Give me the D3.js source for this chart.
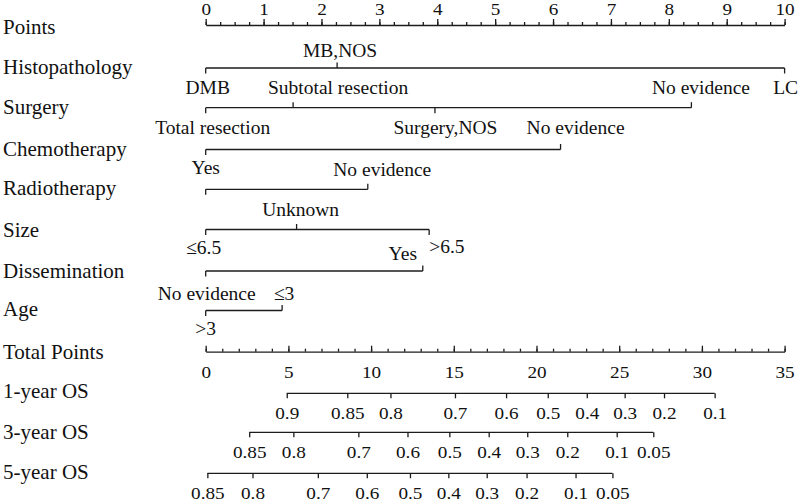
<!DOCTYPE html>
<html><head><meta charset="utf-8">
<script src="https://cdn.jsdelivr.net/npm/d3@7"></script>
<style>
html,body{margin:0;padding:0;background:#fff;}
svg{display:block;}
</style></head><body>
<svg id="chart" width="799" height="502"></svg>
<script>
// ---------------- data ----------------
const rowNames = ["Points","Histopathology","Surgery","Chemotherapy","Radiotherapy","Size","Dissemination","Age","Total Points","1-year OS","3-year OS","5-year OS"];
const pointsTicks = [0,1,2,3,4,5,6,7,8,9,10];
const totalPointsTicks = [0,5,10,15,20,25,30,35];

const histopathologyLevels = ["DMB","MB,NOS","LC"];
const histopathologyPoints = [0, 2.27, 10];
const surgeryLevels = ["Total resection","Subtotal resection","Surgery,NOS","No evidence"];
const surgeryPoints = [0, 1.51, 3.96, 8.39];
const chemotherapyLevels = ["Yes","No evidence"];
const chemotherapyPoints = [0, 6.13];
const radiotherapyLevels = ["Yes","No evidence"];
const radiotherapyPoints = [0, 2.80];
const sizeLevels = ["\u22646.5","Unknown",">6.5"];
const sizePoints = [0, 1.57, 3.86];
const disseminationLevels = ["No evidence","Yes"];
const disseminationPoints = [0, 3.75];
const ageLevels = [">3","\u22643"];
const agePoints = [0, 1.32];

const os1Labels = [0.9,0.85,0.8,0.7,0.6,0.5,0.4,0.3,0.2,0.1];
const os1TotalPoints = [4.90,8.56,11.17,15.07,18.16,20.68,23.04,25.33,27.71,30.77];
const os3Labels = [0.85,0.8,0.7,0.6,0.5,0.4,0.3,0.2,0.1,0.05];
const os3TotalPoints = [2.63,5.30,9.23,12.20,14.73,17.11,19.44,21.86,24.85,27.06];
const os5Labels = [0.85,0.8,0.7,0.6,0.5,0.4,0.3,0.2,0.1,0.05];
const os5TotalPoints = [0.10,2.83,6.78,9.74,12.35,14.67,16.99,19.40,22.36,24.59];

// ---------------- layout (positions / styles) ----------------
const rowY = [25, 68, 107.7, 149.5, 189.3, 229.5, 271, 310.5, 351.7, 393.3, 432.3, 473.3];
const rowLabelBaseline = [34, 74, 113.5, 156, 195, 237, 278, 316, 359, 398, 439, 479];
const X0 = 205.7, X1 = 784.6;
const INK = "#1c1c1c";
const LW = 1.3;
const SERIF = "'Liberation Serif','Times New Roman',serif";

// label side (above/below) and fine shift [dx, dy]; null = label not shown
const catLayout = {
  "Histopathology": {side:["below","above","below"], shift:[[2,0],[3,2],[1,0]]},
  "Surgery":        {side:["below","above","below","above"], shift:[[7,1],[45,0],[10.5,1],[9.6,0]]},
  "Chemotherapy":   {side:["below","above"], shift:[[0,-1],[15,-2]]},
  "Radiotherapy":   {side:["below","above"], shift:[null,[14.5,0]]},
  "Size":           {side:["below","above","below"], shift:[[-2,-1],[4,0],[17.7,-2]]},
  "Dissemination":  {side:["below","above"], shift:[[1,3.5],[-20,2.5]]},
  "Age":            {side:["below","above"], shift:[[0,-1],[2,3]]}
};

const categorical = [
  {name:"Histopathology", levels:histopathologyLevels, pts:histopathologyPoints},
  {name:"Surgery", levels:surgeryLevels, pts:surgeryPoints},
  {name:"Chemotherapy", levels:chemotherapyLevels, pts:chemotherapyPoints},
  {name:"Radiotherapy", levels:radiotherapyLevels, pts:radiotherapyPoints},
  {name:"Size", levels:sizeLevels, pts:sizePoints},
  {name:"Dissemination", levels:disseminationLevels, pts:disseminationPoints},
  {name:"Age", levels:ageLevels, pts:agePoints}
];
const osRows = [
  {name:"1-year OS", labels:os1Labels, pts:os1TotalPoints},
  {name:"3-year OS", labels:os3Labels, pts:os3TotalPoints},
  {name:"5-year OS", labels:os5Labels, pts:os5TotalPoints}
];

// ---------------- scales ----------------
const xPts = d3.scaleLinear().domain([0,10]).range([X0,X1]);
const xTot = d3.scaleLinear().domain([0,35]).range([X0,X1]);
const yRow = d3.scaleOrdinal().domain(rowNames).range(rowY);
const yLab = d3.scaleOrdinal().domain(rowNames).range(rowLabelBaseline);

const svg = d3.select("#chart");
svg.append("rect").attr("width",799).attr("height",502).attr("fill","#fff");

// left row labels
svg.append("g").selectAll("text").data(rowNames).join("text")
  .attr("x",3).attr("y",d=>yLab(d))
  .attr("font-family",SERIF).attr("font-size",21).attr("fill","#111")
  .text(d=>d);

function styleAxis(g){
  g.selectAll("line").attr("stroke",INK).attr("stroke-width",LW);
  g.selectAll("path.domain").attr("stroke",INK).attr("stroke-width",LW);
  g.selectAll("text").attr("font-family",SERIF).attr("font-size",17).attr("fill","#111")
    .attr("transform","scale(1.13,1)");
}

// Points axis
const gP = svg.append("g").attr("transform",`translate(0,${yRow("Points")})`);
gP.append("g").call(d3.axisTop(xPts).tickValues(d3.range(0,10.001,0.25)).tickSize(3).tickFormat("").tickSizeOuter(0))
  .call(g=>g.select(".domain").remove()).call(styleAxis);
gP.append("g").call(d3.axisTop(xPts).tickValues(pointsTicks).tickSize(6).tickPadding(4).tickSizeOuter(0))
  .call(styleAxis);

// Total Points axis (ticks up, labels below)
const gT = svg.append("g").attr("transform",`translate(0,${yRow("Total Points")})`);
gT.append("g").call(d3.axisBottom(xTot).tickValues(d3.range(0,35.001,1)).tickSize(-3).tickFormat("").tickSizeOuter(0))
  .call(g=>g.select(".domain").remove()).call(styleAxis);
gT.append("g").call(d3.axisBottom(xTot).tickValues(totalPointsTicks).tickSize(-6).tickSizeOuter(0))
  .call(styleAxis)
  .call(g=>g.selectAll(".tick text").attr("y",26.3).attr("dy",0));

// categorical rows
categorical.forEach(v=>{
  const y = yRow(v.name);
  const lay = catLayout[v.name];
  const g = svg.append("g").attr("transform",`translate(0,${y})`);
  g.append("line").attr("x1",xPts(d3.min(v.pts))).attr("x2",xPts(d3.max(v.pts)))
    .attr("y1",0).attr("y2",0).attr("stroke",INK).attr("stroke-width",LW);
  const items = v.levels.map((l,i)=>({label:l, p:v.pts[i], side:lay.side[i], shift:lay.shift[i]}));
  g.selectAll("line.tk").data(items).join("line").attr("class","tk")
    .attr("x1",d=>xPts(d.p)).attr("x2",d=>xPts(d.p))
    .attr("y1",0).attr("y2",d=>d.side==="above"?-5.5:5.5)
    .attr("stroke",INK).attr("stroke-width",LW);
  g.selectAll("text").data(items.filter(d=>d.shift)).join("text")
    .attr("x",d=>xPts(d.p)+d.shift[0])
    .attr("y",d=>(d.side==="above"?-13.5:25.5)+d.shift[1])
    .attr("text-anchor","middle")
    .attr("font-family",SERIF).attr("font-size",19.5).attr("fill","#111")
    .text(d=>d.label);
});

// OS rows
osRows.forEach(r=>{
  const y = yRow(r.name);
  const fmt = new Map(r.pts.map((p,i)=>[p, String(r.labels[i])]));
  const g = svg.append("g").attr("transform",`translate(0,${y})`);
  g.append("line").attr("x1",xTot(d3.min(r.pts))).attr("x2",xTot(d3.max(r.pts)))
    .attr("y1",0).attr("y2",0).attr("stroke",INK).attr("stroke-width",LW);
  g.append("g").call(d3.axisBottom(xTot).tickValues(r.pts).tickSize(5).tickSizeOuter(0).tickFormat(d=>fmt.get(d)))
    .call(a=>a.select(".domain").remove())
    .call(styleAxis)
    .call(a=>a.selectAll(".tick text").attr("y",25.5).attr("dy",0));
});
</script>
</body></html>
